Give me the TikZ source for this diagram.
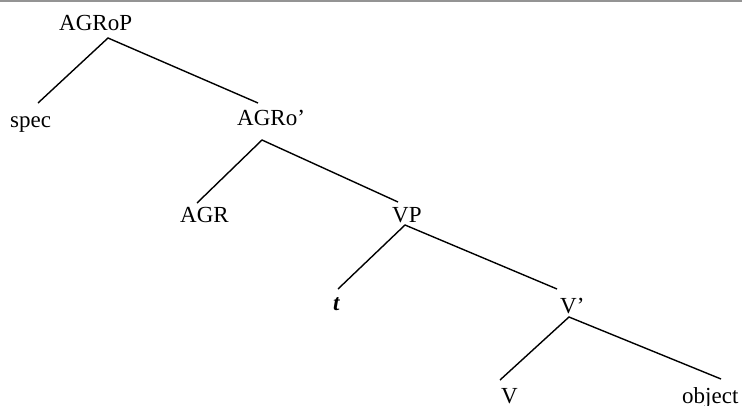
\documentclass[tikz,border=0pt]{standalone}
\usepackage{fontspec}
\setmainfont{Liberation Serif}
\begin{document}
\begin{tikzpicture}[x=1pt,y=-1pt,
  lbl/.style={anchor=base west,inner sep=0pt,font=\fontsize{23}{28}\selectfont},
  branch/.style={line width=1.4pt,black}]
\useasboundingbox (0,0) rectangle (742,405);
\fill[black!42] (0,0) rectangle (742,1.8);
% labels
\node[lbl] (agrop) at (59,30) {AGRoP};
\node[lbl] (spec) at (10,127) {spec};
\node[lbl] (agro) at (237,125) {AGRo’};
\node[lbl] (agr) at (180,222) {AGR};
\node[lbl] (vp) at (392,222) {VP};
\node[lbl] (t) at (333,310) {\textbf{\textit{t}}};
\node[lbl] (vbar) at (560,313) {V’};
\node[lbl] (v) at (501,403) {V};
\node[lbl] (obj) at (682,403) {object};
% branch points
\coordinate (a1) at (108,38);
\coordinate (s1) at (38,103);
\coordinate (o1) at (258,103);
\coordinate (a2) at (262,140);
\coordinate (g2) at (197,203);
\coordinate (p2) at (398,202);
\coordinate (a3) at (405,225);
\coordinate (t3) at (338,289);
\coordinate (b3) at (557,289);
\coordinate (a4) at (569,317);
\coordinate (v4) at (500,380);
\coordinate (j4) at (721,379);
\draw[branch] (s1) -- (a1) -- (o1);
\draw[branch] (g2) -- (a2) -- (p2);
\draw[branch] (t3) -- (a3) -- (b3);
\draw[branch] (v4) -- (a4) -- (j4);
\end{tikzpicture}
\end{document}
